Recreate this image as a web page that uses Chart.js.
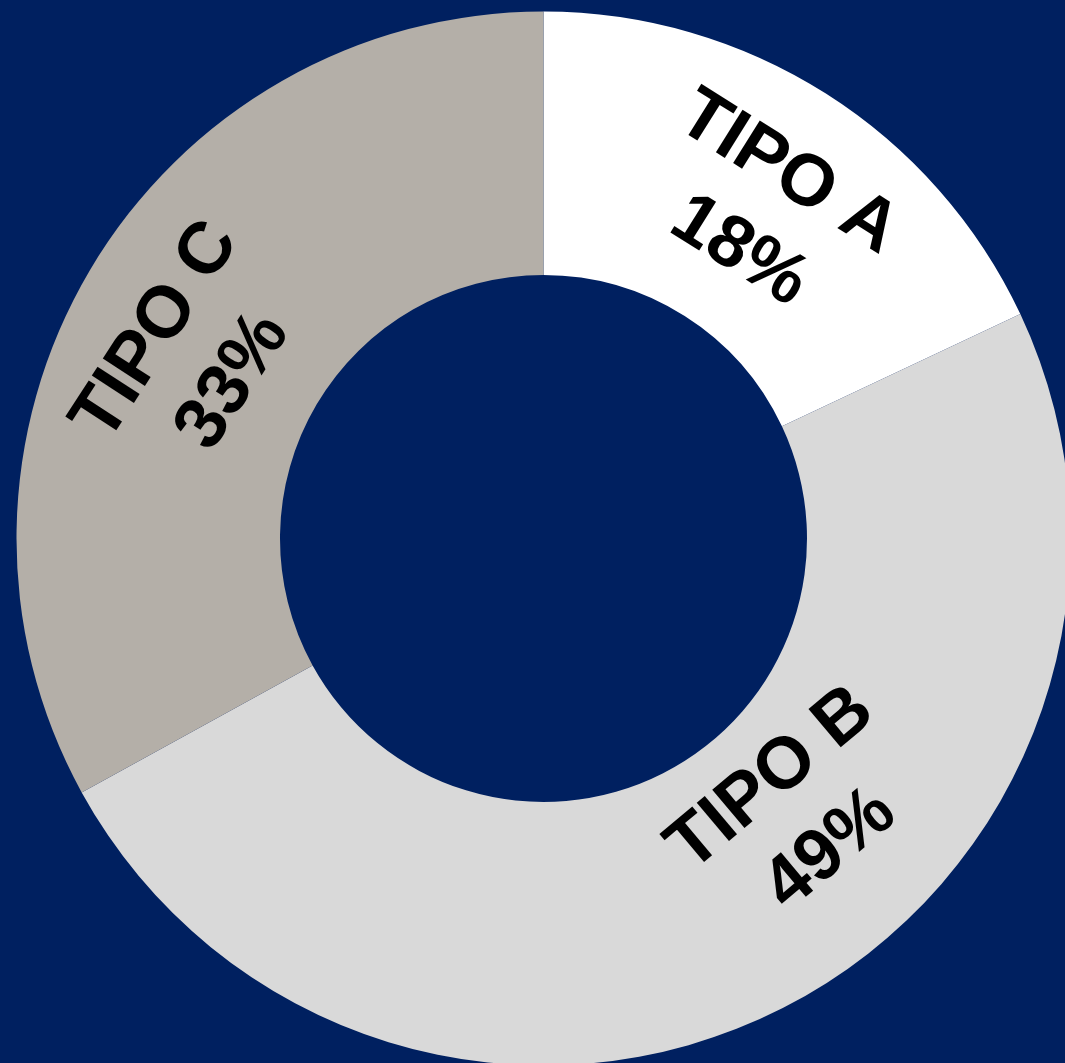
<!DOCTYPE html>
<html>
<head>
<meta charset="utf-8">
<script src="https://cdn.jsdelivr.net/npm/chart.js@4.4.1/dist/chart.umd.min.js"></script>
<style>
  html, body { margin: 0; padding: 0; background: #002060; overflow: hidden; }
  #wrap { position: absolute; left: 0; top: 0; width: 1080px; height: 1080px; }
</style>
</head>
<body>
<div id="wrap"><canvas id="myChart" width="1080" height="1080"></canvas></div>
<script>
var tipos = ['TIPO A', 'TIPO B', 'TIPO C'];
var shares = [18, 49, 33];
var sliceColors = ['#ffffff', '#d9d9d9', '#b4afa8'];

// label placement per slice: angle shift (deg), radius factor, text rotation (deg)
var labelTweaks = [
  { shift: 1.6, r: 1.0, rot: 32 },
  { shift: -16, r: 0.95, rot: -40 },
  { shift: -3.0, r: 1.0, rot: -57 }
];

const sliceLabels = {
  id: 'sliceLabels',
  afterDatasetsDraw(chart) {
    const c = chart.ctx;
    const meta = chart.getDatasetMeta(0);
    meta.data.forEach(function (arc, i) {
      const p = arc.getProps(['x', 'y', 'startAngle', 'endAngle', 'innerRadius', 'outerRadius'], true);
      const t = labelTweaks[i];
      const a = (p.startAngle + p.endAngle) / 2 + t.shift * Math.PI / 180;
      const r = (p.innerRadius + p.outerRadius) / 2 * t.r;
      const x = p.x + r * Math.cos(a);
      const y = p.y + r * Math.sin(a);
      c.save();
      c.translate(x, y);
      c.rotate(t.rot * Math.PI / 180);
      c.fillStyle = '#000000';
      c.font = 'bold 73px "Liberation Sans", Arial, sans-serif';
      c.textAlign = 'center';
      c.textBaseline = 'middle';
      c.fillText(tipos[i], 0, -44);
      c.fillText(shares[i] + '%', 0, 48);
      c.restore();
    });
  }
};

const ctx = document.getElementById('myChart');

new Chart(ctx, {
  type: 'doughnut',
  data: {
    labels: tipos,
    datasets: [{
      data: shares,
      backgroundColor: sliceColors,
      borderWidth: 0
    }]
  },
  options: {
    responsive: false,
    animation: false,
    cutout: '50%',
    layout: {
      padding: { left: 16.5, top: 11.5, right: 9.5, bottom: 14.5 }
    },
    plugins: {
      legend: { display: false },
      tooltip: { enabled: false }
    }
  },
  plugins: [sliceLabels]
});
</script>
</body>
</html>
